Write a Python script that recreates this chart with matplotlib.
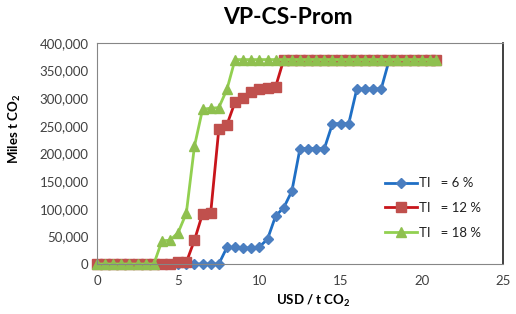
import numpy as np
import matplotlib
matplotlib.use("Agg")
from matplotlib import pyplot as plt
from matplotlib.ticker import FuncFormatter

#%%  Datos

usd = [0, 0.5, 1, 1.5, 2, 2.5, 3, 3.5, 4, 4.5, 5, 5.5, 6, 6.5, 7, 7.5, 8, 8.5,
       9, 9.5, 10, 10.5, 11, 11.5, 12, 12.5, 13, 13.5, 14, 14.5, 15, 15.5,
       16, 16.5, 17, 17.5, 18, 18.5, 19, 19.5, 20, 20.5, 20.9]

ti_6 = [0, 0, 0, 0, 0, 0, 0, 0, 0, 0, 0, 0, 0, 0, 0, 0,
        30000, 30000, 29000, 29000, 31000, 45000, 87000, 102000, 132000,
        209000, 209000, 209000, 209000, 254000, 254000, 254000,
        317000, 317000, 317000, 317000,
        370000, 370000, 370000, 370000, 370000, 370000, 370000]

ti_12 = [0, 0, 0, 0, 0, 0, 0, 0, 0, 0, 3000, 3000,
         43000, 91000, 92000, 244000, 252000, 293000, 300000, 312000, 316000,
         318000, 321000,
         370000, 370000, 370000, 370000, 370000, 370000, 370000, 370000,
         370000, 370000, 370000, 370000, 370000, 370000, 370000, 370000,
         370000, 370000, 370000, 370000]

ti_18 = [0, 0, 0, 0, 0, 0, 0, 0,
         42000, 43000, 57000, 92000, 213000, 280000, 282000, 283000, 316000,
         370000, 370000, 370000, 370000, 370000, 370000, 370000, 370000,
         370000, 370000, 370000, 370000, 370000, 370000, 370000, 370000,
         370000, 370000, 370000, 370000, 370000, 370000, 370000, 370000,
         370000, 370000]

etiquetas = ['TI   = 6 %', 'TI   = 12 %', 'TI   = 18 %']

#%%  Grafico

plt.rcParams['font.family'] = ['Lato', 'DejaVu Sans']
plt.rcParams['mathtext.fontset'] = 'custom'
plt.rcParams['mathtext.rm'] = 'Lato'
plt.rcParams['mathtext.bf'] = 'Lato:bold'

fig = plt.figure(figsize=(5.16, 3.14), dpi=100)
ax = fig.add_axes([97/516, 50/314, 406/516, 221/314])

ax.plot(usd, ti_6, color='#1F6FC5', lw=2.0, marker='D', ms=5.5,
        mfc='#4A7EC0', mec='#4A7EC0', label=etiquetas[0])
ax.plot(usd, ti_12, color='#C8151B', lw=2.0, marker='s', ms=7.5,
        mfc='#C0504D', mec='#C0504D', label=etiquetas[1])
ax.plot(usd, ti_18, color='#92D050', lw=2.0, marker='^', ms=7,
        mfc='#8FC04F', mec='#8FC04F', label=etiquetas[2])

ax.set_xlim(0, 25)
ax.set_ylim(0, 400000)
ax.set_xticks([0, 5, 10, 15, 20, 25])
ax.set_yticks(np.arange(0, 400001, 50000))
ax.yaxis.set_major_formatter(FuncFormatter(lambda v, p: f'{int(v):,}'))
ax.tick_params(length=0, labelsize=9.5, colors='#404040', pad=6)
ax.tick_params(axis='x', pad=8)

for s in ['left', 'top', 'bottom']:
    ax.spines[s].set_color('#868686')
ax.spines['right'].set_color('#202020')
ax.spines['right'].set_linewidth(1.2)

for ln in ax.lines:
    ln.set_clip_on(False)

fig.text(288/516, 1 - 17/314, 'VP-CS-Prom', ha='center', va='center',
         fontsize=16.5, fontweight='bold')
fig.text(313/516, 1 - 301/314, r'USD / t CO$_\mathbf{2}$', ha='center',
         va='center', fontsize=9.5, fontweight='bold')
fig.text(15/516, 1 - 129/314, r'Miles t CO$_\mathbf{2}$', ha='center',
         va='center', rotation=90, fontsize=9.5, fontweight='bold')

ax.legend(loc='center left', bbox_to_anchor=((385 - 97)/406, (264 - 208)/221),
          frameon=False, fontsize=9.5, handlelength=2.4, handletextpad=0.2,
          labelspacing=0.95, borderpad=0, borderaxespad=0,
          labelcolor='#202020')

fig.savefig('out.png', dpi=100)
